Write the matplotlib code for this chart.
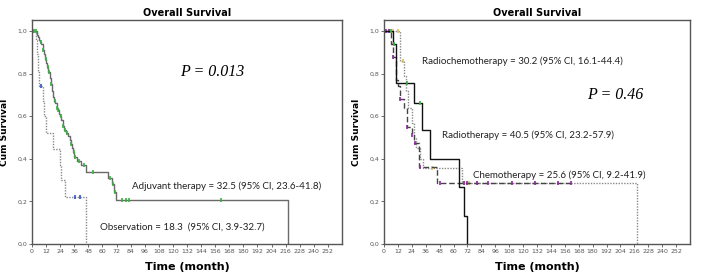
import numpy as np
import matplotlib
matplotlib.use("Agg")
import matplotlib.pyplot as plt

# --- painel esquerdo: adjuvante x observacao ---
adj_t = [0, 4, 5, 6, 7, 8, 9, 10, 11, 12, 13, 14, 15, 16, 17, 18, 19, 20, 21, 22, 23,
         24, 25, 26, 27, 29, 31, 32, 33, 34, 35, 36, 38, 42, 46, 65, 68, 70, 71.5, 218]
adj_s = [1.0, 0.98, 0.97, 0.96, 0.95, 0.94, 0.91, 0.89, 0.87, 0.85, 0.83, 0.81, 0.78,
         0.75, 0.72, 0.69, 0.67, 0.66, 0.64, 0.63, 0.61, 0.60, 0.58, 0.555, 0.535, 0.52,
         0.505, 0.49, 0.47, 0.45, 0.43, 0.41, 0.39, 0.37, 0.34, 0.31, 0.28, 0.245, 0.205, 0.0]
adj_cens = [2, 3, 7.5, 9.5, 11.5, 13.5, 14.5, 16.5, 19.5, 21.5, 22.5, 24.5, 26.5, 28,
            30, 33.5, 35.5, 37, 40, 44, 52, 66, 69, 70.5, 77, 80, 82.5, 161]

obs_t = [0, 3, 4, 5, 6, 9, 10, 12, 18, 24, 25, 28, 46]
obs_s = [1.0, 0.96, 0.89, 0.81, 0.74, 0.67, 0.60, 0.52, 0.445, 0.37, 0.30, 0.22, 0.0]
obs_cens = [1, 8, 36.6, 41]

# --- painel direito: radioterapia / radioquimio / quimio ---
rt_t = [0, 8, 10, 26, 32.7, 40, 64.6, 69.2, 70.6, 71.2]
rt_s = [1.0, 0.94, 0.758, 0.66, 0.535, 0.40, 0.266, 0.13, 0.13, 0.0]
rt_cens = [6, 9, 20, 31]

rct_t = [0, 6, 8, 10, 12, 14, 17, 20, 24, 26, 30, 45.5, 161]
rct_s = [1.0, 0.94, 0.88, 0.77, 0.74, 0.68, 0.64, 0.55, 0.51, 0.475, 0.36, 0.286, 0.286]
rct_cens = [2, 4, 8, 14, 20, 24, 27, 31, 48, 69, 72, 80, 90, 110, 130, 150, 161]

ct_t = [0, 14, 17, 19, 21, 24, 26, 28, 31, 34, 67, 218]
ct_s = [1.0, 0.86, 0.79, 0.72, 0.64, 0.57, 0.50, 0.45, 0.40, 0.357, 0.286, 0.0]
ct_cens = [4, 8, 12, 16.7, 41, 69, 73, 80]

xticks = list(range(0, 253, 12))
yticks = [0.0, 0.2, 0.4, 0.6, 0.8, 1.0]

fonte_txt = dict(fontsize=7, family=['Lato', 'DejaVu Sans'], va='center', color='#222222')
fonte_p = dict(fontsize=11.5, family='Liberation Serif', style='italic', va='center')


def surv_at(t, s, x):
    i = np.searchsorted(t, x, side='right') - 1
    return np.array(s)[i]


def curva(ax, t, s, cens, cor, estilo, cor_cens, marc='|'):
    ax.step(t, s, where='post', color=cor, ls=estilo, lw=1.0)
    cy = surv_at(t, s, cens)
    ax.plot(cens, cy, ls='none', marker=marc, color=cor_cens, ms=3.5, mew=1.2)


def formata(ax):
    ax.set_xlim(0, 264)
    ax.set_ylim(0, 1.052)
    ax.set_xticks(xticks)
    ax.set_xticklabels([str(v) for v in xticks], fontsize=4.5, color='#555555')
    ax.set_yticks(yticks)
    ax.set_yticklabels([('%.1f' % v).replace('.', ',') for v in yticks], fontsize=4.5,
                       color='#555555')
    ax.tick_params(length=2, width=0.6, pad=1.5, colors='#555555')
    for sp in ax.spines.values():
        sp.set_color('#555555')
        sp.set_linewidth(1.0)
    ax.set_title('Overall Survival', fontsize=7, fontweight='bold', pad=3)
    ax.set_xlabel('Time (month)', fontsize=8, fontweight='bold', labelpad=6)
    ax.set_ylabel('Cum Survival', fontsize=6.5, fontweight='bold', labelpad=6)


fig = plt.figure(figsize=(7.05, 2.78), dpi=100)
ax1 = fig.add_axes([0.0454, 0.1223, 0.4397, 0.8058])
ax2 = fig.add_axes([0.5447, 0.1223, 0.434, 0.8058])

curva(ax1, obs_t, obs_s, obs_cens, '#8a8a8a', (0, (1, 1)), '#3050c8')
curva(ax1, adj_t, adj_s, adj_cens, '#6a6a6a', '-', '#3cb043')
formata(ax1)
ax1.text(126, 0.81, 'P = 0.013', **fonte_p)
ax1.text(85, 0.27, 'Adjuvant therapy = 32.5 (95% CI, 23.6-41.8)', **fonte_txt)
ax1.text(58, 0.08, 'Observation = 18.3  (95% CI, 3.9-32.7)', **fonte_txt)

curva(ax2, ct_t, ct_s, ct_cens, '#8a8a8a', (0, (1, 1)), '#d8c060')
curva(ax2, rct_t, rct_s, rct_cens, '#444444', (0, (4, 2)), '#8a2a9a')
curva(ax2, rt_t, rt_s, rt_cens, '#111111', '-', '#3cb043')
formata(ax2)
ax2.text(32.7, 0.86, 'Radiochemotherapy = 30.2 (95% CI, 16.1-44.4)', **fonte_txt)
ax2.text(175, 0.70, 'P = 0.46', **fonte_p)
ax2.text(49.8, 0.51, 'Radiotherapy = 40.5 (95% CI, 23.2-57.9)', **fonte_txt)
ax2.text(77, 0.325, 'Chemotherapy = 25.6 (95% CI, 9.2-41.9)', **fonte_txt)

fig.savefig('out.png', dpi=100)
